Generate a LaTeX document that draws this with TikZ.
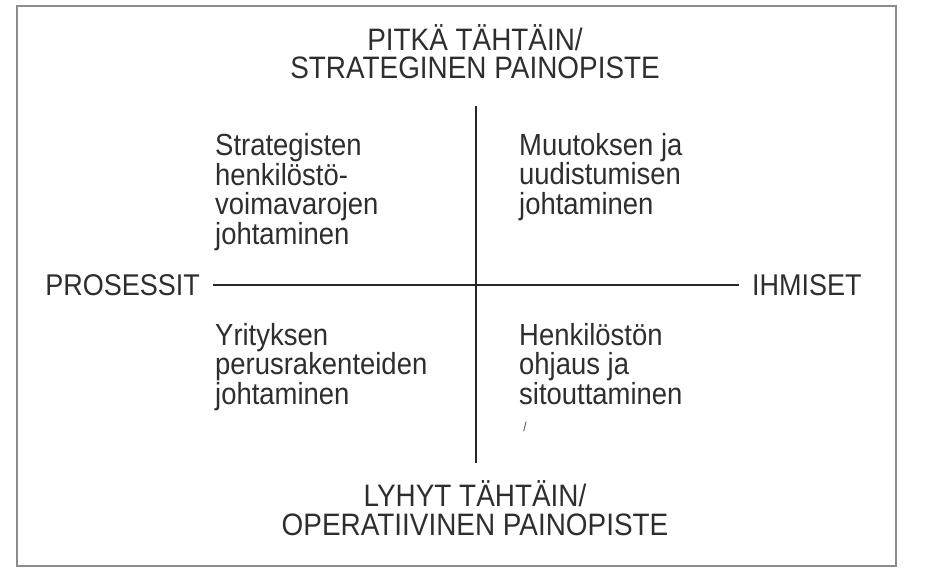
\documentclass[tikz,border=0pt]{standalone}
\usepackage{fontspec}
\setmainfont{Liberation Sans}[FakeStretch=0.9]
\usetikzlibrary{positioning}

\begin{document}
\begin{tikzpicture}[x=1pt,y=-1pt,
  heading/.style={font=\fontsize{31}{28.5}\selectfont,text=black!82,align=center,anchor=base,inner sep=0pt},
  quadtext/.style={font=\fontsize{30.5}{29.5}\selectfont,text=black!82,align=left,anchor=base west,inner sep=0pt},
  sidetext/.style={font=\fontsize{30}{30}\selectfont,text=black!82,inner xsep=13pt,inner ysep=0pt},
  axis/.style={line width=1.8pt,draw=black!85}]

\useasboundingbox (0,0) rectangle (933,575);
\draw[black!45,line width=1.4pt] (17,6) rectangle (896,566);

% headings (base = last line)
\node[heading] (long) at (475,79) {PITKÄ TÄHTÄIN/\\STRATEGINEN PAINOPISTE};
\node[heading] (short) at (475,535) {LYHYT TÄHTÄIN/\\OPERATIIVINEN PAINOPISTE};

% axes
\node[sidetext,anchor=base east] (proc) at (213,295) {PROSESSIT};
\node[sidetext,anchor=base west] (people) at (739,295) {IHMISET};
\coordinate (vtop) at (476,106);
\coordinate (vbot) at (476,463);
\draw[axis] (proc.east) -- (people.west);
\draw[axis] (vtop) -- (vbot);

% quadrants
\node[quadtext] (q1) at (215,244) {Strategisten\\henkilöstö-\\voimavarojen\\johtaminen};
\node[quadtext] (q2) at (519,214) {Muutoksen ja\\uudistumisen\\johtaminen};
\node[quadtext] (q3) at (215,404) {Yrityksen\\perusrakenteiden\\johtaminen};
\node[quadtext] (q4) at (519,404) {Henkilöstön\\ohjaus ja\\sitouttaminen};
\node[font=\fontsize{13}{13}\selectfont,text=black!70,inner sep=0pt] (mark) at (525,427) {/};

\end{tikzpicture}
\end{document}
